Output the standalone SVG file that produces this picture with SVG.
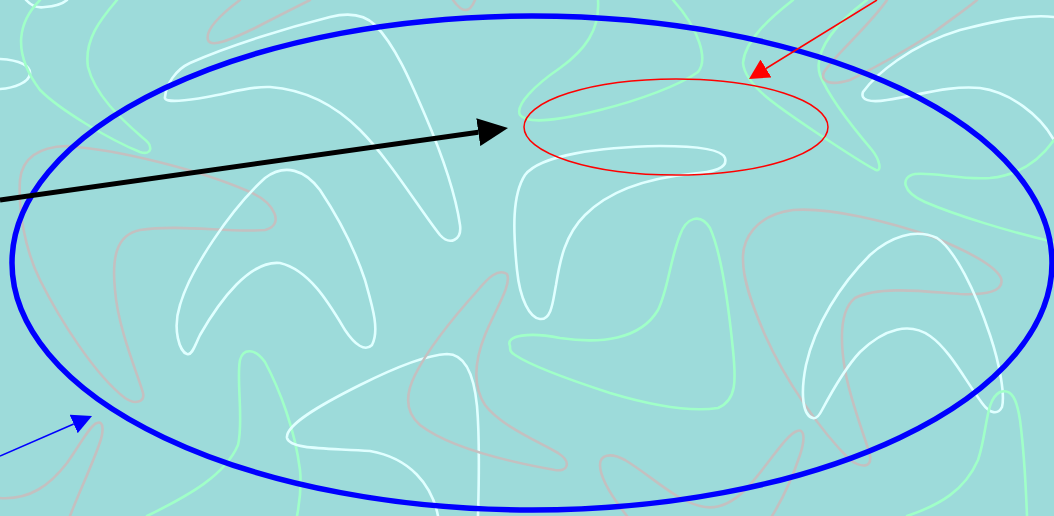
<svg xmlns="http://www.w3.org/2000/svg" width="1054" height="516" viewBox="0 0 1054 516">
<style>
.c{fill:none;stroke-width:2.6;stroke-linecap:round;stroke-linejoin:round}
.w{stroke:#e0ffff}
.g{stroke:#a0ffc8}
.s{stroke:#c4c0c0}
</style>
<defs>
<marker id="mk" markerUnits="userSpaceOnUse" markerWidth="30" markerHeight="28" viewBox="0 0 30 28" refX="0" refY="14" orient="auto"><path d="M0,0 L30,14 L0,28 z" fill="#000"/></marker>
<marker id="mr" markerUnits="userSpaceOnUse" markerWidth="20" markerHeight="21" viewBox="0 0 20 21" refX="0" refY="10.5" orient="auto"><path d="M0,0 L20,10.5 L0,21 z" fill="#f00"/></marker>
<marker id="mb" markerUnits="userSpaceOnUse" markerWidth="20" markerHeight="20" viewBox="0 0 20 20" refX="0" refY="10" orient="auto"><path d="M0,0 L20,10 L0,20 z" fill="#00f"/></marker>
</defs>
<rect width="1054" height="516" fill="#9ddbda"/>
<g id="background">
<path class="c w" d="M26 0 Q34 9 45 7 Q60 6 67 0"/>
<path class="c w" d="M0 59 C20 60 31 66 30 74 C29 82 15 88 0 89"/>
<path class="c g" d="M40 0 C20 20 10 50 40 90 C60 110 110 140 140 152 C152 156 154 146 143 138 C120 118 95 95 88 67 C84 40 100 20 117 0"/>
<path class="c s" d="M240 0 C220 15 205 30 208 40 C211 48 230 40 255 28 C280 15 300 5 310 0"/>
<path class="c s" d="M453 0 Q467 20 475 0"/>
<path class="c w" d="M165 97 C163 104 190 100 207 97 C230 93 250 86 270 87 C310 90 340 110 360 130 C390 160 420 210 440 235 C450 246 462 240 460 225 C455 190 440 150 425 115 C410 80 395 45 375 25 C365 15 350 12 330 17 C290 27 230 45 190 63 C175 70 166 85 165 97 Z"/>
<path class="c s" d="M67 146 C120 150 200 170 250 192 C275 203 285 225 265 230 C230 233 180 224 140 230 C115 235 112 260 115 290 C118 330 140 380 143 393 C145 402 135 405 125 398 C95 375 60 320 40 280 C25 250 18 210 20 180 C22 160 35 147 67 146 Z"/>
<path class="c w" d="M187 354 C180 352 172 330 180 305 C190 270 230 210 265 178 C285 163 305 170 320 190 C340 220 355 250 365 280 C372 305 380 330 372 345 C365 352 355 345 345 330 C330 305 310 270 280 263 C250 260 220 300 200 335 C195 345 192 356 187 354 Z"/>
<path class="c g" d="M147 516 C190 495 225 475 238 445 C244 420 236 380 240 360 C243 348 255 348 265 362 C280 390 295 430 300 470 C302 490 299 505 297 516"/>
<path class="c s" d="M0 498 C30 500 50 485 67 463 C80 445 90 425 97 423 C104 420 104 432 99 445 C92 465 78 495 70 516"/>
<path class="c w" d="M438 516 C432 485 410 458 370 451 C330 448 290 450 287 438 C285 425 320 405 360 385 C390 370 425 355 447 354 C465 354 474 375 477 406 C480 440 479 480 478 516"/>
<path class="c s" d="M507 274 C498 268 488 278 478 290 C460 310 430 345 415 375 C405 395 405 412 420 425 C450 448 510 462 555 470 C568 472 572 462 558 453 C535 440 500 425 485 405 C472 385 475 360 485 335 C495 310 512 285 507 274 Z"/>
<path class="c w" d="M540 319 C530 318 520 300 517 270 C513 230 512 195 525 175 C540 155 600 147 660 146 C700 146 722 150 725 158 C728 168 715 172 690 174 C650 178 610 190 585 215 C565 235 560 260 556 285 C553 300 552 320 540 319 Z"/>
<path class="c g" d="M598 0 C600 30 585 50 560 68 C535 85 515 105 520 115 C528 125 560 120 600 110 C640 100 680 85 698 72 C708 60 700 30 673 0"/>
<path class="c g" d="M510 346 C505 335 530 332 560 338 C600 344 640 340 658 310 C668 290 670 260 680 235 C686 218 700 212 710 228 C720 250 728 300 733 350 C736 380 737 400 718 408 C690 412 650 405 610 393 C570 380 530 365 515 355 C510 352 510 350 510 346 Z"/>
<path class="c s" d="M627 516 C612 497 600 478 600 465 C600 455 610 452 625 460 C650 475 675 500 700 506 C715 510 730 505 745 490 C765 470 785 435 797 431 C805 428 805 440 800 455 C795 470 785 495 772 516"/>
<path class="c s" d="M743 260 C742 240 755 215 793 210 C830 207 890 222 933 237 C965 250 995 265 1001 278 C1005 292 985 295 960 294 C930 292 880 285 855 298 C840 310 840 340 845 370 C850 400 866 440 870 455 C872 468 862 468 850 460 C820 430 785 380 765 335 C752 305 743 280 743 260 Z"/>
<path class="c w" d="M813 418 C803 416 800 395 806 365 C815 325 840 285 870 255 C890 237 915 228 937 238 C955 250 975 290 990 335 C1000 365 1005 395 1002 407 C998 415 990 414 982 403 C965 380 950 350 930 336 C910 322 885 328 860 352 C845 368 830 395 822 410 C819 416 816 419 813 418 Z"/>
<path class="c g" d="M907 516 C940 505 965 490 978 460 C988 430 985 400 1000 392 C1012 388 1017 400 1020 420 C1024 450 1026 490 1027 516"/>
<path class="c g" d="M793 0 C770 18 745 40 743 63 C745 85 775 105 817 133 C840 148 865 165 876 170 C882 172 880 160 872 150 C855 130 830 100 820 75 C812 50 840 20 867 0"/>
<path class="c s" d="M887 0 C870 25 835 55 824 72 C820 82 830 86 850 80 C880 65 910 48 933 33 C950 20 965 10 977 0"/>
<path class="c w" d="M1054 17 C1030 14 1000 20 960 30 C910 45 875 75 863 92 C860 100 870 103 887 100 C920 95 950 85 980 88 C1010 92 1040 115 1054 140"/>
<path class="c g" d="M1054 140 C1040 160 1020 175 990 178 C960 180 935 172 915 174 C900 177 902 192 925 202 C955 215 1010 232 1054 242"/>
</g>
<g id="region-outer"><ellipse cx="532" cy="263" rx="520" ry="247" fill="none" stroke="#0000ff" stroke-width="5.5"/></g>
<g id="region-inner"><ellipse cx="676" cy="127" rx="152" ry="48" fill="none" stroke="#ff0000" stroke-width="1.5"/></g>
<g id="connectors">
<line x1="0" y1="200" x2="478.3" y2="132.2" stroke="#000" stroke-width="5" marker-end="url(#mk)"/>
<line x1="877" y1="0" x2="766" y2="68.5" stroke="#f00" stroke-width="1.5" marker-end="url(#mr)"/>
<line x1="0" y1="456" x2="73.7" y2="424" stroke="#00f" stroke-width="1.5" marker-end="url(#mb)"/>
</g>
</svg>
